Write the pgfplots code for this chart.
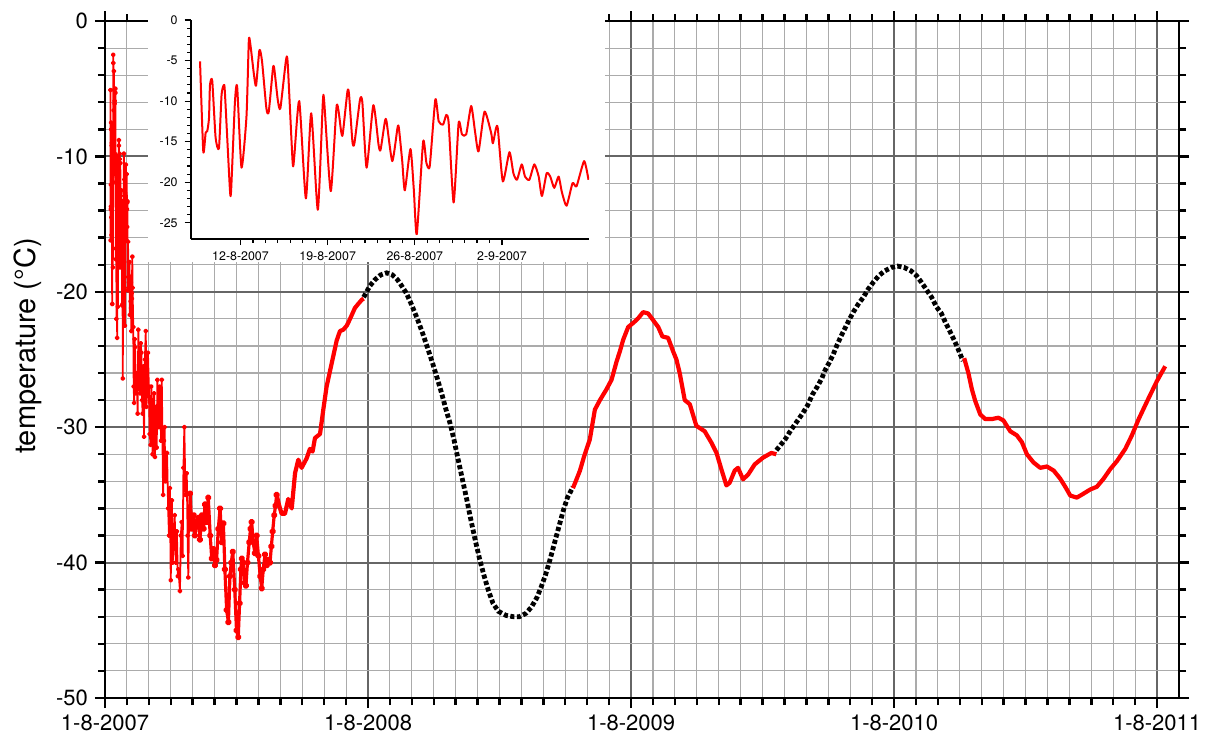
\documentclass[border=0pt]{standalone}
\usepackage{pgfplots}
\pgfplotsset{compat=1.18}
\usepackage{fontspec}
\setmainfont{TeX Gyre Heros}
\begin{document}
\begin{tikzpicture}
\begin{axis}[
  at={(0pt,0pt)}, anchor=south west,
  scale only axis, width=537pt, height=338.5pt,
  xmin=0, xmax=49, ymin=-50, ymax=0,
  xtick={0,12,24,36,48},
  xticklabels={1-8-2007,1-8-2008,1-8-2009,1-8-2010,1-8-2011},
  minor x tick num=11,
  ytick={-50,-40,-30,-20,-10,0},
  yticklabels={-50,-40,-30,-20,-10,0},
  minor y tick num=4,
  grid=both,
  major grid style={draw=black!60, line width=1pt},
  minor grid style={draw=black!33, line width=0.55pt},
  axis line style={black, line width=1.2pt},
  tick style={black, line width=1.2pt},
  major tick length=5pt, minor tick length=3.5pt,
  tick align=outside,
  tick label style={font=\fontsize{11}{13}\selectfont},
  ylabel={temperature (°C)},
  ylabel style={font=\fontsize{14.5}{17}\selectfont, at={(axis description cs:-0.0717,0.52)}, anchor=center},
]
% black model segments (dotted squares)
\addplot[black, line width=2.4pt, dash pattern=on 2.1pt off 1.2pt] coordinates {
(11.8,-20.4)(12.09,-19.55)(12.32,-19.1)(12.58,-18.75)(12.85,-18.6)(13.11,-18.75)(13.34,-19.1)(13.53,-19.55)(13.75,-20.1)(14.0,-21.0)(14.25,-22.0)(14.5,-23.1)(14.75,-24.3)(14.95,-25.3)(15.16,-26.4)(15.36,-27.5)(15.54,-28.6)(15.74,-29.7)(15.92,-30.9)(16.1,-32.3)(16.3,-33.8)(16.5,-35.3)(16.7,-36.9)(16.9,-38.4)(17.1,-39.8)(17.3,-41.0)(17.5,-42.1)(17.7,-43.0)(17.95,-43.6)(18.3,-43.9)(18.65,-44.0)(18.9,-44.0)(19.2,-43.75)(19.45,-43.3)(19.7,-42.6)(19.9,-41.8)(20.1,-40.9)(20.3,-39.8)(20.5,-38.6)(20.7,-37.4)(20.9,-36.2)(21.1,-35.2)(21.35,-34.4)
};
\addplot[black, line width=2.4pt, dash pattern=on 2.1pt off 1.2pt] coordinates {
(30.63,-31.7)(31.03,-30.9)(31.3,-30.2)(31.56,-29.6)(31.82,-29.0)(32.05,-28.4)(32.27,-27.6)(32.5,-27.0)(32.7,-26.4)(32.85,-25.8)(33.05,-25.2)(33.23,-24.6)(33.38,-24.0)(33.56,-23.35)(33.76,-22.7)(33.94,-22.1)(34.14,-21.5)(34.37,-20.9)(34.6,-20.4)(34.82,-19.8)(35.05,-19.3)(35.31,-18.8)(35.58,-18.45)(35.89,-18.2)(36.16,-18.1)(36.46,-18.2)(36.77,-18.45)(37.02,-18.8)(37.25,-19.3)(37.48,-19.85)(37.71,-20.4)(37.93,-21.1)(38.16,-21.6)(38.34,-22.25)(38.54,-22.9)(38.72,-23.5)(38.89,-24.1)(39.04,-24.7)(39.15,-25.1)
};
% red measured, first months (thin with dots)
\addplot[red, line width=0.9pt, line join=round, mark=*, mark size=0.8pt, mark options={solid, fill=red, draw=red}] coordinates {
(0.250,-5.1)(0.258,-16.2)(0.265,-13.9)(0.269,-13.7)(0.273,-12.1)(0.276,-8.0)(0.282,-7.5)(0.290,-14.5)(0.299,-15.8)(0.306,-9.2)(0.312,-8.0)(0.315,-9.0)(0.327,-20.9)(0.331,-20.9)(0.340,-10.2)(0.346,-8.2)(0.357,-18.2)(0.370,-11.9)(0.376,-2.5)(0.381,-3.1)(0.389,-6.6)(0.395,-8.1)(0.404,-3.7)(0.411,-5.1)(0.422,-10.9)(0.428,-11.3)(0.439,-5.9)(0.443,-6.1)(0.451,-9.8)(0.458,-10.9)(0.473,-5.0)(0.477,-5.3)(0.490,-17.6)(0.494,-16.8)(0.507,-10.0)(0.524,-22.0)(0.538,-11.5)(0.555,-23.4)(0.568,-10.2)(0.572,-10.0)(0.589,-21.1)(0.604,-10.5)(0.615,-13.7)(0.620,-14.1)(0.632,-8.8)(0.636,-9.2)(0.645,-15.0)(0.650,-15.2)(0.665,-9.8)(0.671,-10.2)(0.682,-18.2)(0.699,-10.5)(0.713,-15.4)(0.718,-16.0)(0.729,-12.5)(0.733,-12.5)(0.748,-17.4)(0.762,-13.3)(0.765,-13.3)(0.774,-17.4)(0.781,-21.0)(0.795,-15.9)(0.804,-20.9)(0.812,-26.4)(0.828,-15.0)(0.836,-17.6)(0.845,-18.0)(0.860,-9.8)(0.868,-12.5)(0.880,-12.9)(0.888,-11.7)(0.894,-12.7)(0.907,-22.5)(0.920,-12.7)(0.929,-14.1)(0.940,-14.1)(0.953,-10.6)(0.963,-13.9)(0.972,-16.2)(0.987,-11.3)(1.004,-13.9)(1.009,-15.2)(1.017,-13.3)(1.022,-13.4)(1.035,-19.9)(1.052,-16.3)(1.062,-18.9)(1.071,-19.7)(1.084,-17.8)(1.092,-19.3)(1.103,-19.7)(1.116,-17.8)(1.127,-19.3)(1.136,-21.7)(1.148,-18.9)(1.157,-19.3)(1.168,-20.7)(1.179,-19.3)(1.187,-21.2)(1.200,-22.9)(1.215,-20.1)(1.225,-20.5)(1.245,-17.4)(1.256,-19.7)
(1.29,-22.6)(1.31,-27.0)(1.33,-28.2)(1.35,-23.5)(1.37,-24.1)(1.41,-27.5)(1.45,-26.0)(1.49,-29.0)(1.52,-22.8)(1.56,-26.5)(1.6,-27.5)(1.63,-23.8)(1.66,-24.5)(1.69,-28.0)(1.72,-29.0)(1.75,-25.5)(1.78,-30.7)(1.82,-25.0)(1.86,-22.9)(1.89,-28.5)(1.92,-27.5)(1.96,-24.5)(2.0,-27.0)(2.04,-30.5)(2.08,-31.3)(2.11,-27.0)(2.14,-28.0)(2.17,-32.0)(2.2,-31.0)(2.24,-27.5)(2.28,-32.2)(2.33,-28.5)(2.36,-31.5)(2.39,-26.5)(2.42,-29.5)(2.45,-30.0)(2.49,-27.0)(2.52,-28.0)(2.56,-31.0)(2.59,-26.5)(2.62,-30.5)(2.65,-35.0)(2.69,-31.0)(2.72,-30.0)(2.75,-34.0)(2.78,-33.0)(2.83,-31.9)(2.88,-36.0)(2.92,-38.0)(2.96,-34.5)(3.0,-41.3)(3.05,-35.4)(3.09,-40.0)(3.12,-39.0)(3.18,-36.5)(3.23,-40.0)(3.28,-37.7)(3.32,-41.0)(3.35,-40.5)(3.42,-42.1)(3.46,-38.0)(3.5,-37.0)(3.54,-39.5)(3.58,-33.0)(3.62,-30.0)(3.67,-35.0)(3.73,-33.4)(3.77,-38.0)(3.8,-41.1)(3.84,-36.0)(3.88,-34.9)
};
\addplot[red, line width=1.6pt, line join=round, mark=*, mark size=0.9pt, mark options={solid, fill=red, draw=red}] coordinates {
(3.88,-34.9)(3.96,-37.5)(4.05,-36.5)(4.1,-38.0)(4.18,-37.0)(4.26,-36.7)(4.33,-38.3)(4.42,-36.5)(4.5,-37.5)(4.56,-35.7)(4.63,-37.0)(4.71,-35.2)(4.8,-38.0)(4.87,-39.7)(4.95,-39.0)(5.02,-40.2)(5.09,-39.8)(5.17,-37.5)(5.25,-36.0)(5.33,-38.5)(5.4,-37.1)(5.47,-40.5)(5.55,-43.5)(5.63,-44.4)(5.7,-41.0)(5.76,-40.0)(5.83,-39.2)(5.92,-42.0)(6.0,-45.0)(6.08,-45.5)(6.14,-43.0)(6.2,-40.5)(6.24,-39.7)(6.3,-40.0)(6.37,-41.5)(6.43,-41.7)(6.5,-40.0)(6.58,-38.5)(6.64,-37.5)(6.69,-37.0)(6.76,-38.5)(6.84,-39.3)(6.92,-38.0)(7.0,-39.5)(7.08,-41.0)(7.15,-41.9)(7.22,-40.5)(7.3,-39.4)(7.38,-40.2)(7.45,-39.8)(7.53,-40.0)(7.59,-38.8)(7.65,-37.7)(7.72,-36.5)(7.78,-35.8)(7.83,-35.0)
};
\addplot[red, line width=2.1pt, line join=round] coordinates {
(7.83,-35.0)(7.95,-35.8)(8.06,-36.4)(8.21,-36.4)(8.36,-35.3)(8.52,-36.0)(8.67,-33.4)(8.82,-32.4)(8.97,-33.0)(9.2,-32.3)(9.35,-31.6)(9.47,-31.8)(9.58,-30.8)(9.81,-30.5)(9.96,-28.7)(10.11,-27.0)(10.34,-25.3)(10.57,-23.6)(10.72,-22.9)(10.87,-22.8)(11.03,-22.5)(11.18,-22.0)(11.4,-21.2)(11.55,-20.9)(11.71,-20.6)(11.8,-20.5)
};
\addplot[red, line width=2.1pt, line join=round] coordinates {
(21.35,-34.5)(21.5,-33.9)(21.67,-33.2)(21.85,-32.2)(22.12,-30.9)(22.35,-28.7)(22.58,-28.0)(22.88,-27.2)(23.11,-26.5)(23.34,-25.15)(23.49,-24.4)(23.64,-23.55)(23.87,-22.6)(24.1,-22.3)(24.33,-21.95)(24.55,-21.5)(24.78,-21.6)(25.01,-22.1)(25.24,-22.6)(25.43,-23.3)(25.69,-23.4)(25.92,-24.4)(26.07,-25.0)(26.22,-26.0)(26.45,-28.0)(26.68,-28.3)(26.98,-29.9)(27.36,-30.3)(27.67,-31.15)(27.9,-31.9)(28.12,-33.1)(28.35,-34.3)(28.5,-34.1)(28.73,-33.2)(28.88,-33.0)(29.11,-33.85)(29.34,-33.5)(29.64,-32.75)(30.02,-32.25)(30.4,-31.9)(30.63,-32.0)
};
\addplot[red, line width=2.1pt, line join=round] coordinates {
(39.2,-24.9)(39.39,-26.0)(39.55,-27.2)(39.7,-28.05)(39.93,-29.05)(40.16,-29.4)(40.46,-29.4)(40.76,-29.3)(40.99,-29.5)(41.3,-30.3)(41.6,-30.6)(41.83,-31.1)(42.06,-32.0)(42.36,-32.6)(42.67,-33.0)(42.97,-32.9)(43.28,-33.2)(43.58,-33.8)(43.81,-34.4)(44.04,-35.05)(44.34,-35.2)(44.65,-34.9)(44.95,-34.6)(45.25,-34.4)(45.56,-33.8)(45.86,-33.1)(46.17,-32.5)(46.55,-31.6)(46.85,-30.6)(47.16,-29.4)(47.54,-28.1)(47.99,-26.6)(48.37,-25.5)
};
\end{axis}
\fill[white] (21.5pt,218pt) rectangle (250pt,352pt);
\begin{axis}[
  at={(42.85pt,229.5pt)}, anchor=south west,
  scale only axis, width=199.2pt, height=109.5pt,
  xmin=8, xmax=40, ymin=-27, ymax=0,
  axis x line=bottom, axis y line=left,
  axis line style={-, black, line width=0.9pt},
  xtick={12,19,26,33},
  xticklabels={12-8-2007,19-8-2007,26-8-2007,2-9-2007},
  minor x tick num=6,
  ytick={-25,-20,-15,-10,-5,0},
  yticklabels={-25,-20,-15,-10,-5,0},
  minor y tick num=4,
  tick align=outside, major tick length=3pt, minor tick length=1.8pt,
  tick style={black, line width=0.6pt},
  tick label style={font=\fontsize{6.2}{7}\selectfont},
]
\addplot[red, line width=1pt, line join=round, smooth, tension=0.35] coordinates {
(8.75,-5.1)(9.01,-16.2)(9.2,-13.9)(9.33,-13.7)(9.47,-12.1)(9.55,-8.0)(9.73,-7.5)(10.0,-14.5)(10.27,-15.8)(10.48,-9.2)(10.67,-8.0)(10.75,-9.0)(11.15,-20.9)(11.25,-20.9)(11.55,-10.2)(11.73,-8.2)(12.08,-18.2)(12.48,-11.9)(12.67,-2.5)(12.8,-3.1)(13.07,-6.6)(13.25,-8.1)(13.52,-3.7)(13.73,-5.1)(14.08,-10.9)(14.27,-11.3)(14.61,-5.9)(14.72,-6.1)(14.99,-9.8)(15.2,-10.9)(15.65,-5.0)(15.79,-5.3)(16.19,-17.6)(16.32,-16.8)(16.72,-10.0)(17.25,-22.0)(17.68,-11.5)(18.21,-23.4)(18.61,-10.2)(18.72,-10.0)(19.25,-21.1)(19.73,-10.5)(20.08,-13.7)(20.21,-14.1)(20.59,-8.8)(20.72,-9.2)(20.99,-15.0)(21.15,-15.2)(21.6,-9.8)(21.79,-10.2)(22.13,-18.2)(22.67,-10.5)(23.09,-15.4)(23.25,-16.0)(23.6,-12.5)(23.73,-12.5)(24.19,-17.4)(24.61,-13.3)(24.72,-13.3)(24.99,-17.4)(25.2,-21.0)(25.65,-15.9)(25.92,-20.9)(26.16,-26.4)(26.67,-15.0)(26.93,-17.6)(27.2,-18.0)(27.65,-9.8)(27.92,-12.5)(28.27,-12.9)(28.53,-11.7)(28.72,-12.7)(29.12,-22.5)(29.52,-12.7)(29.79,-14.1)(30.13,-14.1)(30.53,-10.6)(30.85,-13.9)(31.12,-16.2)(31.6,-11.3)(32.13,-13.9)(32.27,-15.2)(32.53,-13.3)(32.67,-13.4)(33.07,-19.9)(33.6,-16.3)(33.92,-18.9)(34.21,-19.7)(34.59,-17.8)(34.85,-19.3)(35.2,-19.7)(35.6,-17.8)(35.95,-19.3)(36.21,-21.7)(36.59,-18.9)(36.88,-19.3)(37.2,-20.7)(37.55,-19.3)(37.81,-21.2)(38.19,-22.9)(38.67,-20.1)(38.99,-20.5)(39.6,-17.4)(39.95,-19.7)
};
\end{axis}
\pgfresetboundingbox
\path[use as bounding box] (-52.5pt,-21pt) rectangle (551.5pt,349pt);
\end{tikzpicture}
\end{document}
